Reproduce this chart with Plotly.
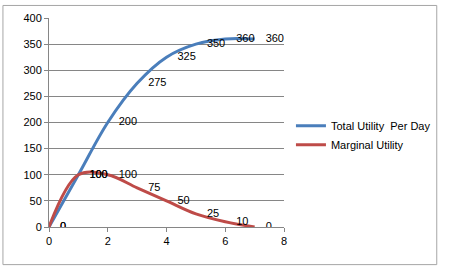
import plotly.graph_objects as go

units = [0, 1, 2, 3, 4, 5, 6, 7]
total_utility = [0, 100, 200, 275, 325, 350, 360, 360]
marginal_utility = [0, 100, 100, 75, 50, 25, 10, 0]
series_names = ["Total Utility  Per Day", "Marginal Utility"]
series_colors = ["#4A7EBB", "#BE4B48"]

font = dict(family="Liberation Sans, Arial, sans-serif", size=11, color="#000000")

fig = go.Figure()
for name, vals, col in zip(series_names, [total_utility, marginal_utility], series_colors):
    fig.add_trace(go.Scatter(
        x=units, y=vals, name=name, mode="lines",
        line=dict(color=col, width=3, shape="spline", smoothing=1.0),
    ))
for vals in [total_utility, marginal_utility]:
    fig.add_trace(go.Scatter(
        x=units, y=vals, mode="markers+text", showlegend=False, hoverinfo="skip",
        text=[str(v) for v in vals], textposition="middle right", textfont=font,
        marker=dict(size=16, opacity=0, color="white"),
    ))

fig.update_layout(
    width=449, height=273,
    margin=dict(l=49, r=165, t=18, b=46, autoexpand=False),
    paper_bgcolor="white", plot_bgcolor="white",
    font=font,
    showlegend=True,
    legend=dict(xref="container", yref="container", x=0.648, y=0.505,
                xanchor="left", yanchor="middle",
                font=dict(family="Liberation Sans, Arial, sans-serif", size=11),
                bgcolor="rgba(0,0,0,0)", tracegroupgap=0, itemwidth=30),
    shapes=[dict(type="rect", xref="paper", yref="paper", x0=-0.196, x1=1.65, y0=-0.18, y1=1.06,
                 line=dict(color="#A6A6A6", width=1), layer="below")],
)
fig.update_xaxes(range=[0, 8], dtick=2, showgrid=False, showline=True, linecolor="#868686",
                 ticks="outside", ticklen=4, tickcolor="#868686", zeroline=False)
fig.update_yaxes(range=[0, 400], dtick=50, showgrid=True, gridcolor="#868686", gridwidth=1,
                 showline=True, linecolor="#868686", ticks="outside", ticklen=4,
                 tickcolor="#868686", zeroline=False)

fig.write_html("out.html")
